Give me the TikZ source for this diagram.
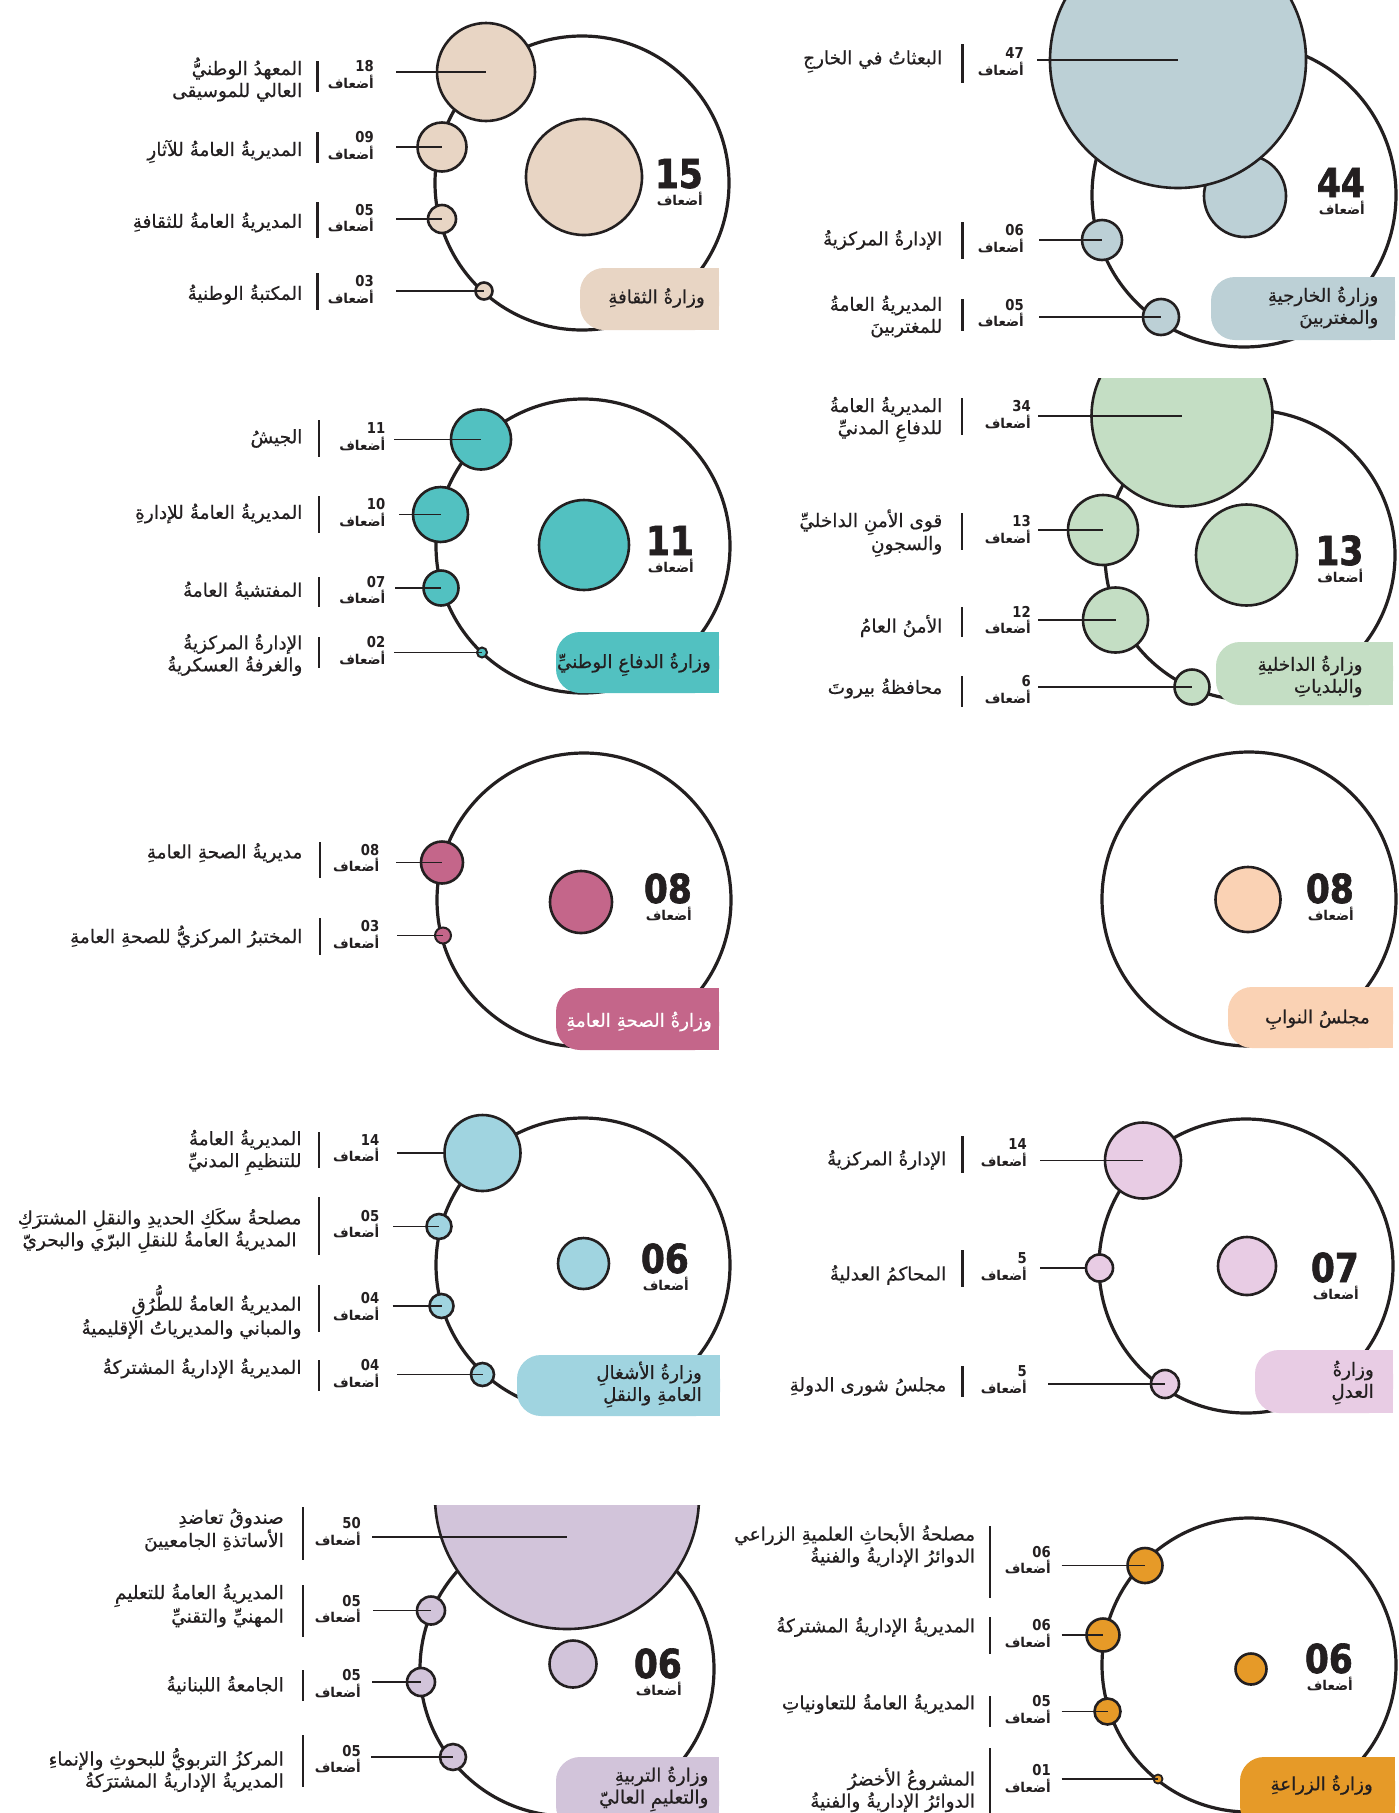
\documentclass[tikz,border=0pt]{standalone}
\usepackage{fontspec}
\setmainfont{DejaVu Sans}
\newfontfamily\arabicfont[Script=Arabic, UprightFeatures={FakeBold=0.5}]{DejaVu Sans}
\newfontfamily\numfont[FakeStretch=0.88]{DejaVu Sans}
\newfontfamily\bignumfont[FakeStretch=0.86, BoldFeatures={FakeBold=1.6}]{DejaVu Sans}
\TeXXeTstate=1
\definecolor{ink}{HTML}{231F20}
\definecolor{cCul}{HTML}{E8D5C4}
\definecolor{cFor}{HTML}{BCD0D6}
\definecolor{cDef}{HTML}{52C1C1}
\definecolor{cInt}{HTML}{C4DEC4}
\definecolor{cHea}{HTML}{C4668A}
\definecolor{cPar}{HTML}{FAD2B4}
\definecolor{cWor}{HTML}{A0D4E0}
\definecolor{cJus}{HTML}{E8CCE4}
\definecolor{cEdu}{HTML}{D2C4DA}
\definecolor{cAgr}{HTML}{E69A28}
\newcommand\ar[1]{{\arabicfont\beginR #1\endR}}
\newcommand\btc{ink}
% entry: name, bar top, bar bottom, number, label centre y, label
\newcommand\ent[6]{%
  \pgfmathsetmacro\entcy{(#2+#3)/2}%
  \coordinate (#1t) at (\xb,#2);
  \coordinate (#1u) at (\xb,#3);
  \draw[vbar] (#1t) -- (#1u);
  \node[numtxt, anchor=base east] (#1n) at (\xn,\entcy-5) {#4};
  \node[dtxt, anchor=base east] (#1d) at (\xn,\entcy+11.5) {\ar{أضعاف}};
  \node[labtxt, anchor=east] (#1l) at (\xl,#5) {#6};
}
% leader: name, start x, y, target anchor
\newcommand\lead[4]{%
  \coordinate (#1) at (#2,#3);
  \draw[leadline] (#1) -- (#1 -| #4);
}
\newcommand\bignum[4]{%
  \node[bigtxt, anchor=base east] (#1) at (#2,#3) {#4};
  \node[dtxt, anchor=base east] (#1d) at (#2,#3+17) {\ar{أضعاف}};
}
% box: name, xL, yT, xR, yB, colour, text right x, text centre y, text
\newcommand\minbox[9]{%
  \fill[#6, rounded corners=24pt] (#2,#3) rectangle (#4,#5);
  \fill[#6] (#2+40,#3) rectangle (#4,#5);
  \node[boxtxt, text=\btc, anchor=east] (#1) at (#7,#8) {#9};
}
\begin{document}
\begin{tikzpicture}[x=1pt,y=-1pt,
  ring/.style={circle, draw=ink, line width=3.2pt, minimum size=294pt, inner sep=0pt},
  bub/.style={circle, draw=ink, line width=2.6pt, inner sep=0pt, minimum size=#1pt},
  leadline/.style={draw=ink, line width=1.3pt},
  vbar/.style={draw=ink, line width=2.2pt},
  numtxt/.style={font=\numfont\bfseries\fontsize{15}{15}\selectfont, text=ink, inner sep=0pt},
  dtxt/.style={font=\bfseries\fontsize{13.5}{14}\selectfont, text=ink, inner sep=0pt},
  labtxt/.style={font=\fontsize{18.5}{22}\selectfont, text=ink, inner sep=0pt, align=right},
  boxtxt/.style={font=\fontsize{18.3}{22}\selectfont, inner sep=0pt, align=right},
  bigtxt/.style={font=\bignumfont\bfseries\fontsize{40}{40}\selectfont, text=ink, inner sep=0pt}]
\useasboundingbox (0,0) rectangle (1399,1813);
\fill[white] (0,0) rectangle (1399,1813);

% ===== Panel 1: Culture =====
\node[ring] (o1) at (582,183) {};
\node[bub=116, fill=cCul] (m1) at (584,177) {};
\node[bub=98, fill=cCul] (a1) at (486,72) {};
\node[bub=49, fill=cCul] (a2) at (442,147) {};
\node[bub=28, fill=cCul] (a3) at (442,219) {};
\node[bub=17, fill=cCul] (a4) at (484,291) {};
\lead{l1}{396}{72}{a1.center}
\lead{l2}{396}{147}{a2.center}
\lead{l3}{396}{219}{a3.center}
\lead{l4}{396}{291}{a4.center}
\def\xb{317.5}\def\xn{374}\def\xl{302.5}
\ent{e1}{61}{92}{18}{79.5}{\ar{المعهدُ الوطنيُّ}\\\ar{العالي للموسيقى}}
\ent{e2}{132}{163}{09}{151.5}{\ar{المديريةُ العامةُ للآثارِ}}
\ent{e3}{202}{238}{05}{222.5}{\ar{المديريةُ العامةُ للثقافةِ}}
\ent{e4}{273}{310}{03}{294.5}{\ar{المكتبةُ الوطنيةُ}}
\minbox{b1}{580}{268}{719}{330}{cCul}{705}{298}{\ar{وزارةُ الثقافةِ}}
\bignum{n1}{703}{188}{15}

% ===== Panel 2: Foreign affairs =====
\node[ring, minimum size=304pt] (o2) at (1244,195) {};
\node[bub=82, fill=cFor] (m2) at (1245,196) {};
\node[bub=256, fill=cFor] (a5) at (1178,60) {};
\node[bub=40, fill=cFor] (a6) at (1102,240) {};
\node[bub=36, fill=cFor] (a7) at (1161,317) {};
\lead{l5}{1037}{60}{a5.center}
\lead{l6}{1039}{240}{a6.center}
\lead{l7}{1039}{317}{a7.center}
\def\xb{962.5}\def\xn{1024}\def\xl{942.5}
\ent{e5}{44}{83}{47}{61.5}{\ar{البعثاتُ في الخارجِ}}
\ent{e6}{222}{259}{06}{240}{\ar{الإدارةُ المركزيةُ}}
\ent{e7}{299}{331}{05}{316.5}{\ar{المديريةُ العامةُ}\\\ar{للمغتربينَ}}
\minbox{b2}{1211}{277}{1395}{340}{cFor}{1378.5}{307.5}{\ar{وزارةُ الخارجيةِ}\\\ar{والمغتربينَ}}
\bignum{n2}{1365}{197}{44}

% ===== Panel 3: Defence =====
\node[ring] (o3) at (583,546) {};
\node[bub=90, fill=cDef] (m3) at (584,545) {};
\node[bub=60, fill=cDef] (a8) at (481,439.5) {};
\node[bub=55, fill=cDef] (a9) at (440.5,514.5) {};
\node[bub=35, fill=cDef] (a10) at (441,588) {};
\node[bub=10, fill=cDef, line width=2pt] (a11) at (482,652.5) {};
\lead{l8}{394}{439.5}{a8.center}
\lead{l9}{399}{514.5}{a9.center}
\lead{l10}{395}{588}{a10.center}
\lead{l11}{394}{652.5}{a11.center}
\def\xb{319}\def\xn{385.5}\def\xl{302.6}
\ent{e8}{420}{457}{11}{438.5}{\ar{الجيشُ}}
\ent{e9}{496}{533}{10}{513.5}{\ar{المديريةُ العامةُ للإدارةِ}}
\ent{e10}{577}{607}{07}{590.5}{\ar{المفتشيةُ العامةُ}}
\ent{e11}{637}{668}{02}{655}{\ar{الإدارةُ المركزيةُ}\\\ar{والغرفةُ العسكريةُ}}
\minbox{b3}{556}{632}{719}{693}{cDef}{711}{664.5}{\ar{وزارةُ الدفاعِ الوطنيِّ}}
\bignum{n3}{694}{555}{11}

% ===== Panel 4: Interior =====
\begin{scope}
\clip (900,378) rectangle (1399,730);
\node[ring, minimum size=290pt] (o4) at (1250,555) {};
\node[bub=101, fill=cInt] (m4) at (1246.5,555) {};
\node[bub=181, fill=cInt] (a12) at (1182,416) {};
\node[bub=70, fill=cInt] (a13) at (1103,530) {};
\node[bub=65, fill=cInt] (a14) at (1115.5,620) {};
\node[bub=35, fill=cInt] (a15) at (1192,687) {};
\end{scope}
\lead{l12}{1038}{416}{a12.center}
\lead{l13}{1038}{530}{a13.center}
\lead{l14}{1038}{620}{a14.center}
\lead{l15}{1038}{687}{a15.center}
\def\xb{961.6}\def\xn{1031}\def\xl{942.5}
\ent{e12}{398}{435}{34}{419.5}{\ar{المديريةُ العامةُ}\\\ar{للدفاعِ المدنيِّ}}
\ent{e13}{513}{550}{13}{533}{\ar{قوى الأمنِ الداخليِّ}\\\ar{والسجونِ}}
\ent{e14}{607}{637}{12}{626}{\ar{الأمنُ العامُ}}
\ent{e15}{676}{707}{6}{688.5}{\ar{محافظةُ بيروتَ}}
\minbox{b4}{1216}{642}{1393}{705}{cInt}{1362.7}{676.5}{\ar{وزارةُ الداخليةِ}\\\ar{والبلدياتِ}}
\bignum{n4}{1363.5}{565}{13}

% ===== Panel 5: Health =====
\node[ring] (o5) at (584,900) {};
\node[bub=62, fill=cHea] (m5) at (581,902) {};
\node[bub=42, fill=cHea] (a16) at (442,862.5) {};
\node[bub=16, fill=cHea, line width=2pt] (a17) at (443,935.5) {};
\lead{l16}{396}{862.5}{a16.center}
\lead{l17}{397}{935.5}{a17.center}
\def\xb{320}\def\xn{379.4}\def\xl{302.6}
\ent{e16}{842}{878}{08}{853}{\ar{مديريةُ الصحةِ العامةِ}}
\ent{e17}{918}{955}{03}{936.5}{\ar{المختبرُ المركزيُّ للصحةِ العامةِ}}
\renewcommand\btc{white}
\minbox{b5}{556}{988}{719}{1050}{cHea}{712}{1021.5}{\ar{وزارةُ الصحةِ العامةِ}}
\renewcommand\btc{ink}
\bignum{n5}{692}{903}{08}

% ===== Panel 6: Parliament =====
\node[ring] (o6) at (1249,899) {};
\node[bub=65, fill=cPar] (m6) at (1248,899.5) {};
\minbox{b6}{1228}{987}{1393}{1048}{cPar}{1370}{1019.5}{\ar{مجلسُ النوابِ}}
\bignum{n6}{1354}{903}{08}

% ===== Panel 7: Public works =====
\node[ring] (o7) at (583,1265) {};
\node[bub=51, fill=cWor] (m7) at (583.5,1263.5) {};
\node[bub=76, fill=cWor] (a18) at (482.5,1153) {};
\node[bub=25, fill=cWor] (a19) at (439,1226.5) {};
\node[bub=24, fill=cWor] (a20) at (441.5,1306) {};
\node[bub=23, fill=cWor] (a21) at (482.5,1374.5) {};
\lead{l18}{397}{1153}{a18.west}
\lead{l19}{393}{1226.5}{a19.center}
\lead{l20}{392.5}{1306}{a20.center}
\lead{l21}{397}{1374.5}{a21.center}
\def\xb{319}\def\xn{379.4}\def\xl{301.7}
\ent{e18}{1132}{1168}{14}{1152.5}{\ar{المديريةُ العامةُ}\\\ar{للتنظيمِ المدنيِّ}}
\ent{e19}{1197}{1255}{05}{1230.5}{\ar{مصلحةُ سكَكِ الحديدِ والنقلِ المشترَكِ}\\\ar{المديريةُ العامةُ للنقلِ البرّي والبحريّ}\kern5pt}
\ent{e20}{1285}{1332}{04}{1312}{\ar{المديريةُ العامةُ للطُّرُقِ}\\\ar{والمباني والمديرياتُ الإقليميةُ}}
\ent{e21}{1360}{1391}{04}{1368.5}{\ar{المديريةُ الإداريةُ المشتركةُ}}
\minbox{b7}{517}{1355}{720}{1416}{cWor}{702}{1384.5}{\ar{وزارةُ الأشغالِ}\\\ar{العامةِ والنقلِ}}
\bignum{n7}{689}{1273}{06}

% ===== Panel 8: Justice =====
\node[ring] (o8) at (1246,1266) {};
\node[bub=58, fill=cJus] (m8) at (1247,1266) {};
\node[bub=76, fill=cJus] (a22) at (1143,1160.5) {};
\node[bub=27, fill=cJus] (a23) at (1099.5,1268) {};
\node[bub=28, fill=cJus] (a24) at (1165,1384) {};
\lead{l22}{1040}{1160.5}{a22.center}
\lead{l23}{1040}{1268}{a23.west}
\lead{l24}{1048}{1384}{a24.center}
\def\xb{962.5}\def\xn{1027}\def\xl{946.5}
\ent{e22}{1136}{1173}{14}{1160}{\ar{الإدارةُ المركزيةُ}}
\ent{e23}{1250}{1287}{5}{1275}{\ar{المحاكمُ العدليةُ}}
\ent{e24}{1366}{1397}{5}{1386.5}{\ar{مجلسُ شورى الدولةِ}}
\minbox{b8}{1255}{1350}{1393}{1413}{cJus}{1374}{1382.5}{\ar{وزارةُ}\\\ar{العدلِ}}
\bignum{n8}{1359}{1282}{07}

% ===== Panel 9: Education =====
\begin{scope}
\clip (300,1505) rectangle (730,1813);
\node[ring] (o9) at (567,1669) {};
\node[bub=47, fill=cEdu] (m9) at (573,1664) {};
\node[bub=264, fill=cEdu] (a25) at (567,1497) {};
\node[bub=28, fill=cEdu] (a26) at (431,1610.5) {};
\node[bub=28, fill=cEdu] (a27) at (421,1682) {};
\node[bub=26, fill=cEdu] (a28) at (453,1757) {};
\end{scope}
\lead{l25}{372}{1537}{a25.center}
\lead{l26}{373}{1610.5}{a26.center}
\lead{l27}{372}{1682}{a27.center}
\lead{l28}{371}{1757}{a28.center}
\def\xb{302.6}\def\xn{361}\def\xl{284}
\ent{e25}{1507}{1560}{50}{1530}{\ar{صندوقُ تعاضدِ}\\\ar{الأساتذةِ الجامعيينَ}}
\ent{e26}{1585}{1637}{05}{1605.5}{\ar{المديريةُ العامةُ للتعليمِ}\\\ar{المهنيِّ والتقنيِّ}}
\ent{e27}{1670}{1701}{05}{1685}{\ar{الجامعةُ اللبنانيةُ}}
\ent{e28}{1735}{1787}{05}{1770}{\ar{المركزُ التربويُّ للبحوثِ والإنماءِ}\\\ar{المديريةُ الإداريةُ المشترَكةُ}}
\minbox{b9}{556}{1757}{719}{1830}{cEdu}{708.6}{1789}{\ar{وزارةُ التربيةِ}\\\ar{والتعليمِ العاليّ}}
\bignum{n9}{682}{1678}{06}

% ===== Panel 10: Agriculture =====
\node[ring] (o10) at (1249,1665) {};
\node[bub=31, fill=cAgr] (m10) at (1251,1669) {};
\node[bub=35, fill=cAgr] (a29) at (1145,1565.5) {};
\node[bub=33, fill=cAgr] (a30) at (1103,1635) {};
\node[bub=26, fill=cAgr] (a31) at (1107.5,1711.5) {};
\node[bub=9, fill=cAgr, line width=1.8pt] (a32) at (1158,1779) {};
\lead{l29}{1061.5}{1565.5}{a29.center}
\lead{l30}{1061.5}{1635}{a30.center}
\lead{l31}{1061.5}{1711.5}{a31.center}
\lead{l32}{1061.5}{1779}{a32.center}
\def\xb{990}\def\xn{1051}\def\xl{975.3}
\ent{e29}{1526}{1598}{06}{1545}{\ar{مصلحةُ الأبحاثِ العلميةِ الزراعي}\\\ar{الدوائرُ الإداريةُ والفنيةُ}}
\ent{e30}{1617}{1654}{06}{1627}{\ar{المديريةُ الإداريةُ المشتركةُ}}
\ent{e31}{1696}{1727}{05}{1704}{\ar{المديريةُ العامةُ للتعاونياتِ}}
\ent{e32}{1748}{1813}{01}{1790}{\ar{المشروعُ الأخضرُ}\\\ar{الدوائرُ الإداريةُ والفنيةُ}}
\minbox{b10}{1240}{1757}{1395}{1830}{cAgr}{1373}{1785}{\ar{وزارةُ الزراعةِ}}
\bignum{n10}{1353}{1673}{06}
\end{tikzpicture}
\end{document}
